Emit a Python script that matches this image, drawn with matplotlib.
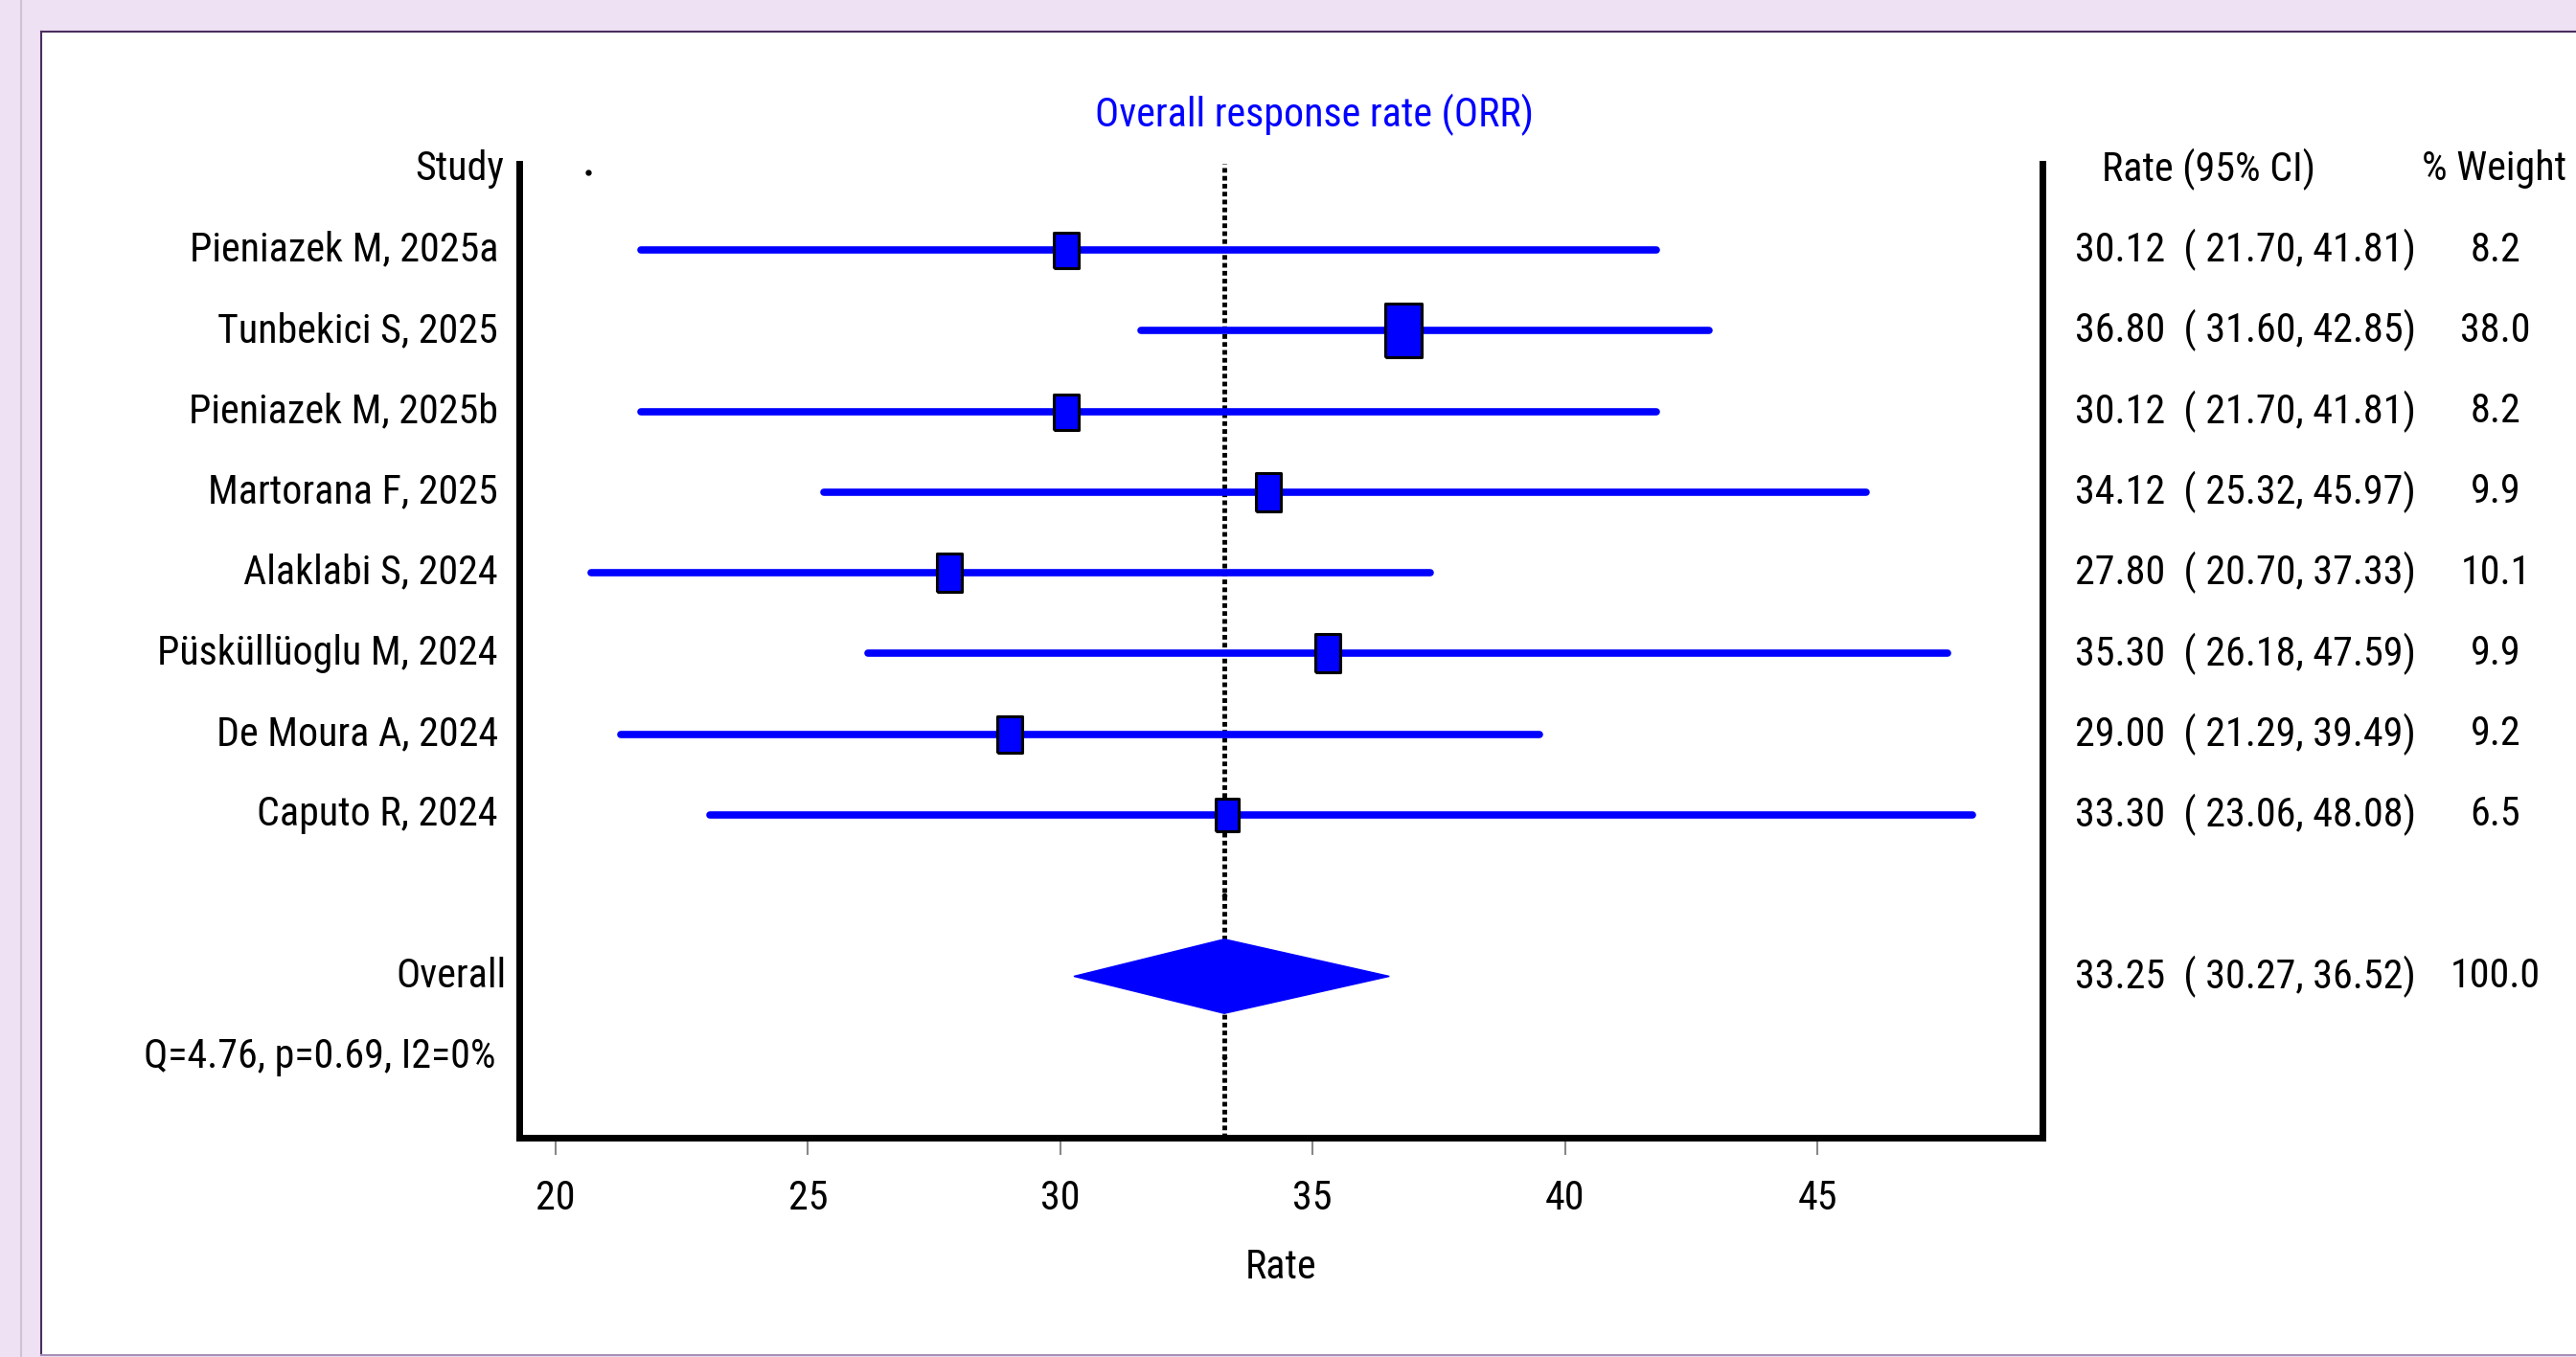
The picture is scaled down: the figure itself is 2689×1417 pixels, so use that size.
import matplotlib.pyplot as plt
from matplotlib import font_manager
from matplotlib.font_manager import FontProperties
from matplotlib.path import Path
from matplotlib.patches import Rectangle, Polygon
from matplotlib.lines import Line2D
from matplotlib.transforms import blended_transform_factory

# -----------------------------
# Data
# -----------------------------
studies = ["Pieniazek M, 2025a", "Tunbekici S, 2025", "Pieniazek M, 2025b",
           "Martorana F, 2025", "Alaklabi S, 2024", "Püsküllüoglu M, 2024",
           "De Moura A, 2024", "Caputo R, 2024"]
rates = [30.12, 36.80, 30.12, 34.12, 27.80, 35.30, 29.00, 33.30]
ci_low = [21.70, 31.60, 21.70, 25.32, 20.70, 26.18, 21.29, 23.06]
ci_high = [41.81, 42.85, 41.81, 45.97, 37.33, 47.59, 39.49, 48.08]
weights = [8.2, 38.0, 8.2, 9.9, 10.1, 9.9, 9.2, 6.5]

overall_rate = 33.25
overall_low = 30.27
overall_high = 36.52
overall_weight = 100.0
heterogeneity = "Q=4.76, p=0.69, I2=0%"
x_ticks = [20, 25, 30, 35, 40, 45]

W, H = 2689, 1417
BLUE = "#0000ff"

# -----------------------------
# Pick a narrow font if one is installed (reference text is condensed)
# -----------------------------
prefs = ["liberationsansnarrow-regular", "robotocondensed-regular", "notosans-condensed.",
         "notosans-condensedregular", "notosans-semicondensed.", "opensans_condensed-regular",
         "opensans-condensed-regular", "arialn"]
font_path = None
files = [f.fname for f in font_manager.fontManager.ttflist]
for p in prefs:
    hits = [f for f in files if p in f.lower().replace(" ", "")]
    if hits:
        font_path = hits[0]
        break
if font_path:
    fp = FontProperties(fname=font_path)
else:
    fp = FontProperties(family=["Liberation Sans", "DejaVu Sans"])

fig = plt.figure(figsize=(W / 100, H / 100), dpi=100, facecolor="#efe1f4")

# size the text so the CI column is as wide as in the reference (about 355 px)
renderer = fig.canvas.get_renderer()
fp.set_size(40)
probe = fig.text(0, 0, "30.12  ( 21.70, 41.81)", fontproperties=fp)
probe_w = probe.get_window_extent(renderer).width
probe.remove()
FS = min(40, 40 * 355 / probe_w)
fp.set_size(FS)

# -----------------------------
# Background panel
# -----------------------------
fig.patches.append(Rectangle((43 / W, 3 / H), 1.0, 1 - 36 / H, transform=fig.transFigure,
                             facecolor="white", edgecolor="none", zorder=-1))
fig.add_artist(Line2D([43 / W, 1], [1 - 33 / H] * 2, color="#4b2d5e", lw=1.5))
fig.add_artist(Line2D([43 / W] * 2, [3 / H, 1 - 33 / H], color="#4b2d5e", lw=1.5))
fig.add_artist(Line2D([43 / W, 1], [2 / H] * 2, color="#a88fb8", lw=1.5))
fig.add_artist(Line2D([22 / W] * 2, [0, 1], color="#cfc2d6", lw=1.5))

# -----------------------------
# Forest plot axes
# -----------------------------
ax = fig.add_axes([542 / W, (H - 1188) / H, 1590 / W, (1188 - 171) / H])
ax.set_facecolor("none")
ax.set_xlim(19.28, 49.46)
ax.set_ylim(12, -0.07)
ax.spines["top"].set_visible(False)
for side in ["left", "bottom", "right"]:
    ax.spines[side].set_linewidth(5)
ax.set_yticks([])
ax.set_xticks(x_ticks)
ax.tick_params(axis="x", length=13, width=1.5, color="#888888", pad=18)
for lbl in ax.get_xticklabels():
    lbl.set_fontproperties(fp)
ax.set_xlabel("Rate", fontproperties=fp, labelpad=22)

ax.axvline(overall_rate, color="black", lw=3.5, ls=(0, (1, 0.7)), zorder=2)

box = Path([(-0.68, -1), (0.68, -1), (0.68, 1), (-0.68, 1), (-0.68, -1)])
for i in range(len(studies)):
    row = i + 1
    ax.plot([ci_low[i], ci_high[i]], [row, row], color=BLUE, lw=5.5,
            solid_capstyle="round", zorder=3)
    h_px = 37 * (weights[i] / 8.2) ** 0.28
    ax.plot(rates[i], row, marker=box, markersize=h_px * 0.72, mfc=BLUE,
            mec="black", mew=2.2, ls="none", zorder=4)

ax.add_patch(Polygon([(overall_low, 10), (overall_rate, 9.54), (overall_high, 10),
                      (overall_rate, 10.46)], closed=True, facecolor=BLUE,
                     edgecolor=BLUE, lw=1, zorder=4))
ax.plot([overall_rate, overall_rate], [9, 11], marker="o", ms=3, color="black", ls="none", zorder=3)
ax.plot(20.65, 0.04, marker="o", ms=3.5, color="black", zorder=3)

# -----------------------------
# Text columns
# -----------------------------
trans = blended_transform_factory(fig.transFigure, ax.transData)
ax.text(526 / W, 0, "Study", transform=trans, ha="right", va="center", fontproperties=fp)
ax.text(2306 / W, 0, "Rate (95% CI)", transform=trans, ha="center", va="center", fontproperties=fp)
ax.text(2604 / W, 0, "% Weight", transform=trans, ha="center", va="center", fontproperties=fp)
for i in range(len(studies)):
    row = i + 1
    ax.text(520 / W, row, studies[i], transform=trans, ha="right", va="center", fontproperties=fp)
    ax.text(2166 / W, row, f"{rates[i]:.2f}  ( {ci_low[i]:.2f}, {ci_high[i]:.2f})",
            transform=trans, ha="left", va="center", fontproperties=fp)
    ax.text(2605 / W, row, f"{weights[i]:.1f}", transform=trans, ha="center",
            va="center", fontproperties=fp)

ax.text(528 / W, 10, "Overall", transform=trans, ha="right", va="center", fontproperties=fp)
ax.text(2166 / W, 10, f"{overall_rate:.2f}  ( {overall_low:.2f}, {overall_high:.2f})",
        transform=trans, ha="left", va="center", fontproperties=fp)
ax.text(2605 / W, 10, f"{overall_weight:.1f}", transform=trans, ha="center",
        va="center", fontproperties=fp)
ax.text(518 / W, 11, heterogeneity, transform=trans, ha="right", va="center", fontproperties=fp)

fig.text(1372 / W, 1 - 120 / H, "Overall response rate (ORR)", color=BLUE,
         ha="center", va="center", fontproperties=fp)

plt.savefig("out.png", dpi=100, facecolor=fig.get_facecolor())
